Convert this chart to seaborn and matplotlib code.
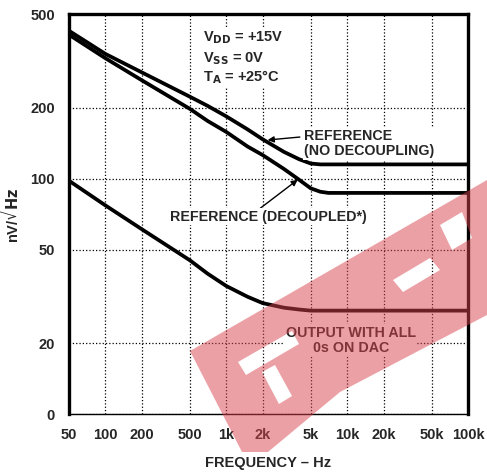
import numpy as np
import pandas as pd
import seaborn as sns
import matplotlib.pyplot as plt
from matplotlib.path import Path
from matplotlib.patches import PathPatch

# values (frequency in Hz, noise in nV/rtHz)
freq = [50, 100, 200, 500, 700, 1000, 1500, 2000, 3000, 4000, 5000, 6000, 7000, 10000, 20000, 50000, 100000]
ref_no_decoupling = [425, 339, 283, 223, 204, 184, 162, 147, 130, 121, 116, 115, 115, 115, 115, 115, 115]
ref_decoupled = [409, 325, 262, 198, 176, 158, 137, 126, 110, 99, 91, 88, 87, 87, 87, 87, 87]
output_all_zeros = [98, 77, 61, 45, 39.5, 35, 31.5, 29.6, 28.3, 27.8, 27.5, 27.5, 27.5, 27.5, 27.5, 27.5, 27.5]

x_ticks = [50, 100, 200, 500, 1000, 2000, 5000, 10000, 20000, 50000, 100000]
x_labels = ["50", "100", "200", "500", "1k", "2k", "5k", "10k", "20k", "50k", "100k"]
y_ticks = [10, 20, 50, 100, 200, 500]
y_labels = ["0", "20", "50", "100", "200", "500"]

df = pd.DataFrame({
    "freq": freq * 3,
    "noise": ref_no_decoupling + ref_decoupled + output_all_zeros,
    "curve": ["no_dec"] * len(freq) + ["dec"] * len(freq) + ["out"] * len(freq),
})

sns.set_style("white")
plt.rcParams["font.family"] = ["Liberation Sans", "DejaVu Sans"]
plt.rcParams["font.weight"] = "bold"

fig = plt.figure(figsize=(4.87, 4.73), dpi=100)
ax = fig.add_axes([0.1417, 0.1247, 0.8193, 0.8453])

sns.lineplot(data=df, x="freq", y="noise", units="curve", estimator=None,
             color="black", linewidth=2.7, ax=ax, legend=False)

ax.set_xscale("log")
ax.set_yscale("log")
ax.set_xlim(50, 100000)
ax.set_ylim(10, 500)
ax.set_xticks(x_ticks)
ax.set_xticklabels(x_labels)
ax.set_yticks(y_ticks)
ax.set_yticklabels(y_labels)
ax.minorticks_off()
ax.tick_params(length=0, labelsize=10.5, pad=10)
for lab in ax.get_xticklabels() + ax.get_yticklabels():
    lab.set_fontweight("bold")

ax.grid(True, which="major", color="black", linestyle=":", linewidth=0.9)
for side in ["left", "top", "right"]:
    ax.spines[side].set_linewidth(2.4)
    ax.spines[side].set_color("black")
ax.spines["bottom"].set_linewidth(1.0)
ax.spines["bottom"].set_color("black")

ax.set_xlabel("FREQUENCY \u2013 Hz", fontsize=10.5, fontweight="bold", labelpad=10)
ax.set_ylabel(r"nV/$\sqrt{\mathbf{Hz}}$", fontsize=10.5, fontweight="bold", labelpad=6)

# operating conditions
box = dict(facecolor="white", edgecolor="none", pad=1)
ax.text(640, 399, r"V$_{\mathbf{DD}}$ = +15V", fontsize=10.5, fontweight="bold", va="center", bbox=box)
ax.text(640, 325, r"V$_{\mathbf{SS}}$ = 0V", fontsize=10.5, fontweight="bold", va="center", bbox=box)
ax.text(640, 270, r"T$_{\mathbf{A}}$ = +25°C", fontsize=10.5, fontweight="bold", va="center", bbox=box)

ax.annotate("REFERENCE\n(NO DECOUPLING)", xy=(2200, 146), xytext=(4400, 141),
            fontsize=10.3, fontweight="bold", va="center", ha="left", linespacing=1.1,
            bbox=box,
            arrowprops=dict(arrowstyle="-|>", color="black", lw=1.0, mutation_scale=9,
                            shrinkA=2, shrinkB=0, relpos=(0.03, 0.75)))
ax.annotate("REFERENCE (DECOUPLED*)", xy=(3900, 99), xytext=(342, 69),
            fontsize=10.3, fontweight="bold", va="center", ha="left",
            bbox=box,
            arrowprops=dict(arrowstyle="-|>", color="black", lw=1.0, mutation_scale=9,
                            shrinkA=0, shrinkB=0, relpos=(0.45, 1.0)))
ax.text(10700, 20.6, "OUTPUT WITH ALL\n0s ON DAC", fontsize=10.3, fontweight="bold",
        ha="center", va="center", linespacing=1.1, bbox=box)

# red watermark of the source page, with a few letter cut-outs (figure pixels)
def ring(pts, ccw=True):
    pts = [(x / 487, 1 - y / 473) for x, y in pts]
    area = sum(x0 * y1 - x1 * y0 for (x0, y0), (x1, y1) in zip(pts, pts[1:] + pts[:1]))
    if (area > 0) != ccw:
        pts = pts[::-1]
    return pts + [pts[0]]

outer = ring([(190, 351), (487, 180), (487, 315), (340, 392), (268, 452), (242, 452)], True)
holes = [
    ring([(238, 362), (292, 331), (299, 344), (246, 375)], False),
    ring([(262, 372), (275, 365), (292, 396), (279, 404)], False),
    ring([(393, 280), (430, 258), (440, 270), (403, 292)], False),
    ring([(440, 225), (462, 212), (472, 238), (452, 250)], False),
]
verts, codes = [], []
for r in [outer] + holes:
    verts += r
    codes += [Path.MOVETO] + [Path.LINETO] * (len(r) - 2) + [Path.CLOSEPOLY]
band = PathPatch(Path(verts, codes), transform=fig.transFigure, facecolor="#d9434c",
                 edgecolor="none", alpha=0.5, zorder=10)
fig.add_artist(band)

fig.savefig("out.png", dpi=100)
